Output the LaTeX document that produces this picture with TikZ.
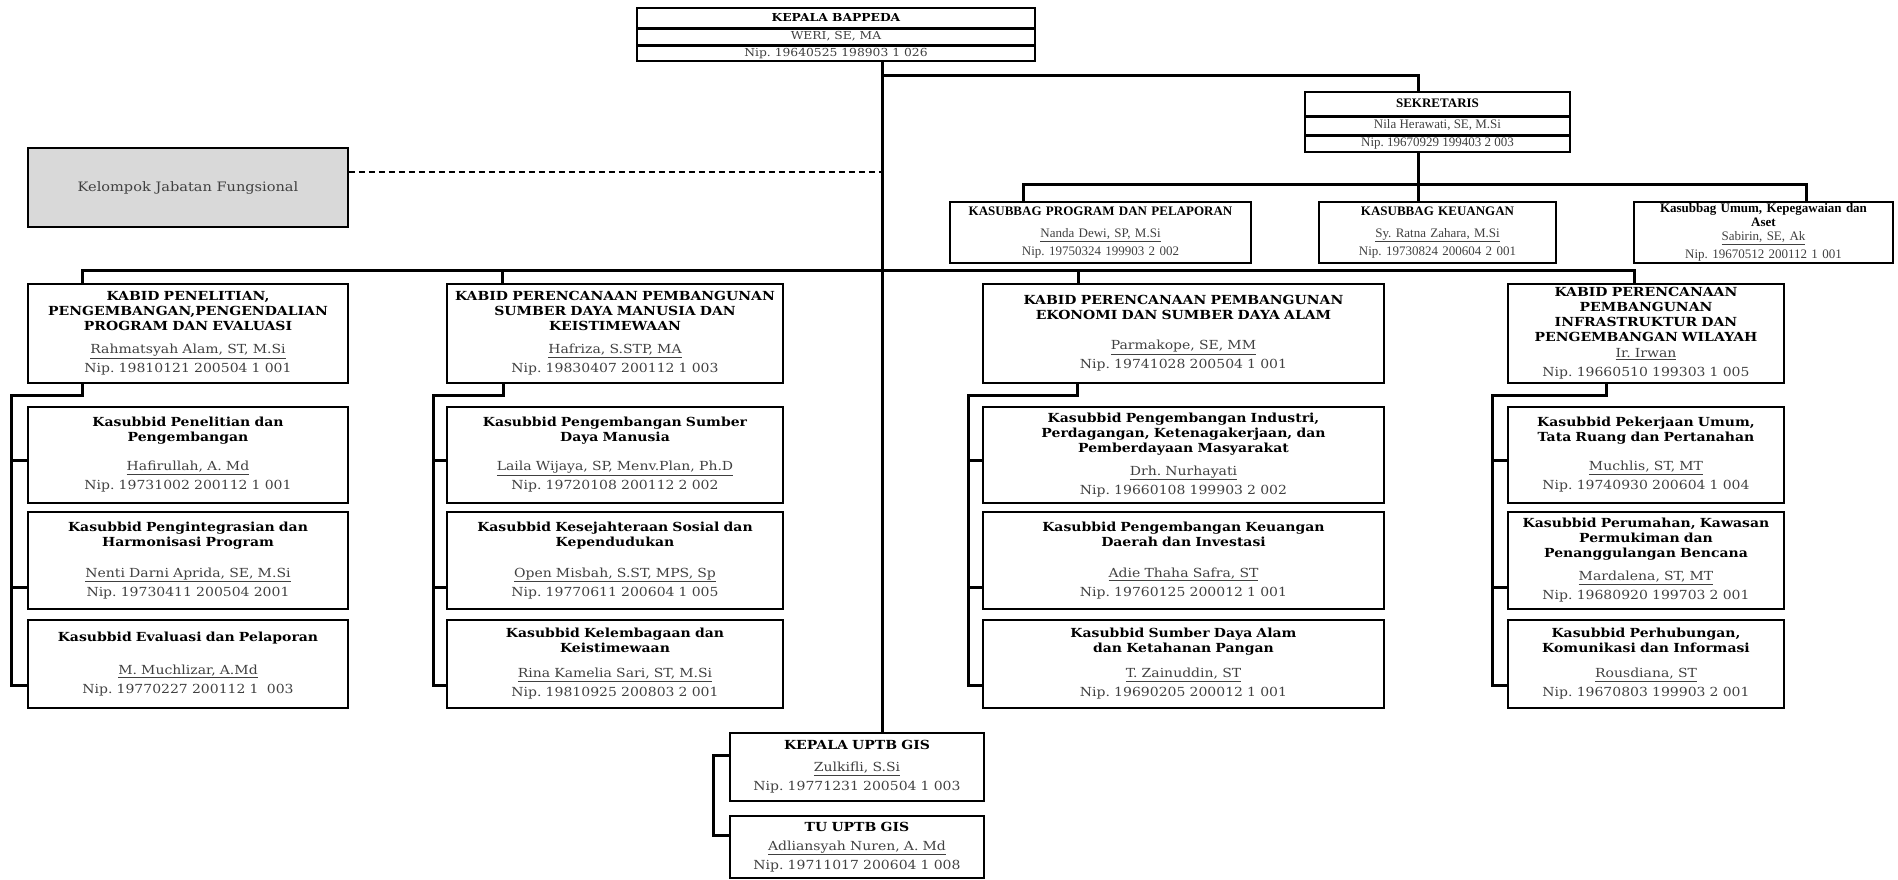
\documentclass[tikz,border=0pt]{standalone}
\usepackage{fontspec}
\setmainfont{DejaVu Serif}[FakeStretch=1.12]
\newfontfamily\atas{Liberation Serif}
\usepackage{tikz}
\usetikzlibrary{positioning}
\frenchspacing
\newcommand{\kotakisi}[4][14pt]{\textbf{#2}\\[#1]{\color{black!75}\underline{#3}}\\[4pt]{\color{black!75}#4}}

\tikzset{
  garis/.style={line width=3pt},
  kotak/.style={draw, line width=1.6pt, align=center, inner sep=0pt, font=\fontsize{12.5}{15}\selectfont},
  baris/.style={draw, line width=1.4pt, inner sep=0pt, text height=8pt, text depth=2pt},
  kasubbag/.style={kotak, font=\atas\fontsize{13}{14}\selectfont, minimum height=61pt},
  kabid/.style={kotak, minimum height=99pt},
}

\begin{document}
\begin{tikzpicture}[x=1pt,y=-1pt]
\useasboundingbox (0,0) rectangle (1898,879);
\coordinate (sumbu) at (882,0);
\coordinate (tsek) at (1418,0);

% pimpinan
\node[baris, font=\fontsize{11}{13}\selectfont, minimum width=398pt, minimum height=20pt] (kepala) at (836,18) {\textbf{KEPALA BAPPEDA}};
\node[baris, font=\fontsize{11}{13}\selectfont, text=black!75, minimum width=398pt, minimum height=15pt, below=0pt of kepala] (kepalanama) {WERI, SE, MA};
\node[baris, font=\fontsize{11}{13}\selectfont, text=black!75, minimum width=398pt, minimum height=15pt, below=0pt of kepalanama] (kepalanip) {Nip. 19640525 198903 1 026};

\node[baris, font=\atas\fontsize{13}{14}\selectfont, minimum width=265pt, minimum height=24pt] (sek) at (1437.5,104) {\textbf{SEKRETARIS}};
\node[baris, font=\atas\fontsize{13}{14}\selectfont, text=black!75, minimum width=265pt, minimum height=17pt, below=0pt of sek] (seknama) {Nila Herawati, SE, M.Si};
\node[baris, font=\atas\fontsize{13}{14}\selectfont, text=black!75, minimum width=265pt, minimum height=16pt, below=0pt of seknama] (seknip) {Nip. 19670929 199403 2 003};

\node[kotak, fill=black!15, text=black!75, font=\fontsize{13}{15}\selectfont, minimum width=320pt, minimum height=79pt] (kel) at (188,187.5) {Kelompok Jabatan Fungsional};

% sekretariat
\node[kasubbag, minimum width=301pt, text width=295pt] (prog) at (1100.5,232.5)
  {\kotakisi[8pt]{KASUBBAG PROGRAM DAN PELAPORAN}{Nanda Dewi, SP, M.Si}{Nip. 19750324 199903 2 002}};
\node[kasubbag, minimum width=237pt, text width=231pt] (keu) at (1437.5,232.5)
  {\kotakisi[8pt]{KASUBBAG KEUANGAN}{Sy. Ratna Zahara, M.Si}{Nip. 19730824 200604 2 001}};
\node[kasubbag, minimum width=259pt, text width=255pt] (umum) at (1763.5,232.5)
  {\kotakisi[0pt]{Kasubbag Umum, Kepegawaian dan\\Aset}{Sabirin, SE, Ak}{Nip. 19670512 200112 1 001}};

% bidang
\node[kabid, minimum width=320pt, text width=314pt] (k1) at (188,333.5)
  {\kotakisi[8pt]{KABID PENELITIAN,\\PENGEMBANGAN,PENGENDALIAN\\PROGRAM DAN EVALUASI}{Rahmatsyah Alam, ST, M.Si}{Nip. 19810121 200504 1 001}};
\node[kabid, minimum width=336pt, text width=330pt] (k2) at (615,333.5)
  {\kotakisi[8pt]{KABID PERENCANAAN PEMBANGUNAN\\SUMBER DAYA MANUSIA DAN\\KEISTIMEWAAN}{Hafriza, S.STP, MA}{Nip. 19830407 200112 1 003}};
\node[kabid, minimum width=401pt, text width=395pt] (k3) at (1183.5,333.5)
  {\kotakisi[15pt]{KABID PERENCANAAN PEMBANGUNAN\\EKONOMI DAN SUMBER DAYA ALAM}{Parmakope, SE, MM}{Nip. 19741028 200504 1 001}};
\node[kabid, minimum width=276pt, text width=272pt] (k4) at (1646,333.5)
  {\kotakisi[1pt]{KABID PERENCANAAN\\PEMBANGUNAN\\INFRASTRUKTUR DAN\\PENGEMBANGAN WILAYAH}{Ir. Irwan}{Nip. 19660510 199303 1 005}};

% sub bidang
\node[kotak, minimum width=320pt, minimum height=96pt, text width=314pt] (sa1) at (188,455)
  {\kotakisi{Kasubbid Penelitian dan\\Pengembangan}{Hafirullah, A. Md}{Nip. 19731002 200112 1 001}};
\node[kotak, minimum width=320pt, minimum height=97pt, text width=314pt] (sb1) at (188,560.5)
  {\kotakisi[16pt]{Kasubbid Pengintegrasian dan\\Harmonisasi Program}{Nenti Darni Aprida, SE, M.Si}{Nip. 19730411 200504 2001}};
\node[kotak, minimum width=320pt, minimum height=88pt, text width=314pt] (sc1) at (188,664)
  {\kotakisi[18pt]{Kasubbid Evaluasi dan Pelaporan}{M. Muchlizar, A.Md}{Nip. 19770227 200112 1 \ 003}};

\node[kotak, minimum width=336pt, minimum height=96pt, text width=330pt] (sa2) at (615,455)
  {\kotakisi{Kasubbid Pengembangan Sumber\\Daya Manusia}{Laila Wijaya, SP, Menv.Plan, Ph.D}{Nip. 19720108 200112 2 002}};
\node[kotak, minimum width=336pt, minimum height=97pt, text width=330pt] (sb2) at (615,560.5)
  {\kotakisi[16pt]{Kasubbid Kesejahteraan Sosial dan\\Kependudukan}{Open Misbah, S.ST, MPS, Sp}{Nip. 19770611 200604 1 005}};
\node[kotak, minimum width=336pt, minimum height=88pt, text width=330pt] (sc2) at (615,664)
  {\kotakisi[10pt]{Kasubbid Kelembagaan dan\\Keistimewaan}{Rina Kamelia Sari, ST, M.Si}{Nip. 19810925 200803 2 001}};

\node[kotak, minimum width=401pt, minimum height=96pt, text width=395pt] (sa3) at (1183.5,455)
  {\kotakisi[8pt]{Kasubbid Pengembangan Industri,\\Perdagangan, Ketenagakerjaan, dan\\Pemberdayaan Masyarakat}{Drh. Nurhayati}{Nip. 19660108 199903 2 002}};
\node[kotak, minimum width=401pt, minimum height=97pt, text width=395pt] (sb3) at (1183.5,560.5)
  {\kotakisi[16pt]{Kasubbid Pengembangan Keuangan\\Daerah dan Investasi}{Adie Thaha Safra, ST}{Nip. 19760125 200012 1 001}};
\node[kotak, minimum width=401pt, minimum height=88pt, text width=395pt] (sc3) at (1183.5,664)
  {\kotakisi[10pt]{Kasubbid Sumber Daya Alam\\dan Ketahanan Pangan}{T. Zainuddin, ST}{Nip. 19690205 200012 1 001}};

\node[kotak, minimum width=276pt, minimum height=96pt, text width=272pt] (sa4) at (1646,455)
  {\kotakisi{Kasubbid Pekerjaan Umum,\\Tata Ruang dan Pertanahan}{Muchlis, ST, MT}{Nip. 19740930 200604 1 004}};
\node[kotak, minimum width=276pt, minimum height=97pt, text width=272pt] (sb4) at (1646,560.5)
  {\kotakisi[8pt]{Kasubbid Perumahan, Kawasan\\Permukiman dan\\Penanggulangan Bencana}{Mardalena, ST, MT}{Nip. 19680920 199703 2 001}};
\node[kotak, minimum width=276pt, minimum height=88pt, text width=272pt] (sc4) at (1646,664)
  {\kotakisi[10pt]{Kasubbid Perhubungan,\\Komunikasi dan Informasi}{Rousdiana, ST}{Nip. 19670803 199903 2 001}};

% uptb
\node[kotak, minimum width=254pt, minimum height=68pt, text width=250pt] (u1) at (857,767)
  {\kotakisi[7pt]{KEPALA UPTB GIS}{Zulkifli, S.Si}{Nip. 19771231 200504 1 003}};
\node[kotak, minimum width=254pt, minimum height=62pt, text width=250pt] (u2) at (857,847)
  {\kotakisi[4pt]{TU UPTB GIS}{Adliansyah Nuren, A. Md}{Nip. 19711017 200604 1 008}};

% garis
\draw[garis] (kepalanip.south -| sumbu) -- (u1.north -| sumbu);
\draw[garis] (sumbu |- 0,75) -| (sek.north -| tsek);
\draw[garis] (seknip.south -| tsek) -- (keu.north -| tsek);
\draw[garis] (prog.north -| 1023,0) -- ++(0,-17) -| (umum.north -| 1806,0);
\draw[line width=1.3pt, dash pattern=on 6pt off 4pt] ([yshift=15.5pt]kel.east) -- ([yshift=15.5pt]kel.east -| sumbu);

\draw[garis] (k1.north -| 82,0) -- ++(0,-13) -| (k4.north -| 1634,0);
\foreach \n/\x in {k2/502,k3/1078}
  \draw[garis] (\n.north -| \x,0) -- ++(0,-13);

\foreach \k/\dx/\bx in {1/55/16,2/57/13,3/95/14,4/99/15}
{
  \draw[garis] ([xshift=\dx pt]k\k.south west) -- ++(0,12) -| ([xshift=-\bx pt,yshift=-21pt]sc\k.west) -- ([yshift=-21pt]sc\k.west);
  \draw[garis] ([xshift=-\bx pt,yshift=-5pt]sa\k.west) -- ([yshift=-5pt]sa\k.west);
  \draw[garis] ([xshift=-\bx pt,yshift=-26.5pt]sb\k.west) -- ([yshift=-26.5pt]sb\k.west);
}

\draw[garis] ([yshift=12pt]u1.west) -- ++(-16,0) |- ([yshift=12pt]u2.west);
\end{tikzpicture}
\end{document}
